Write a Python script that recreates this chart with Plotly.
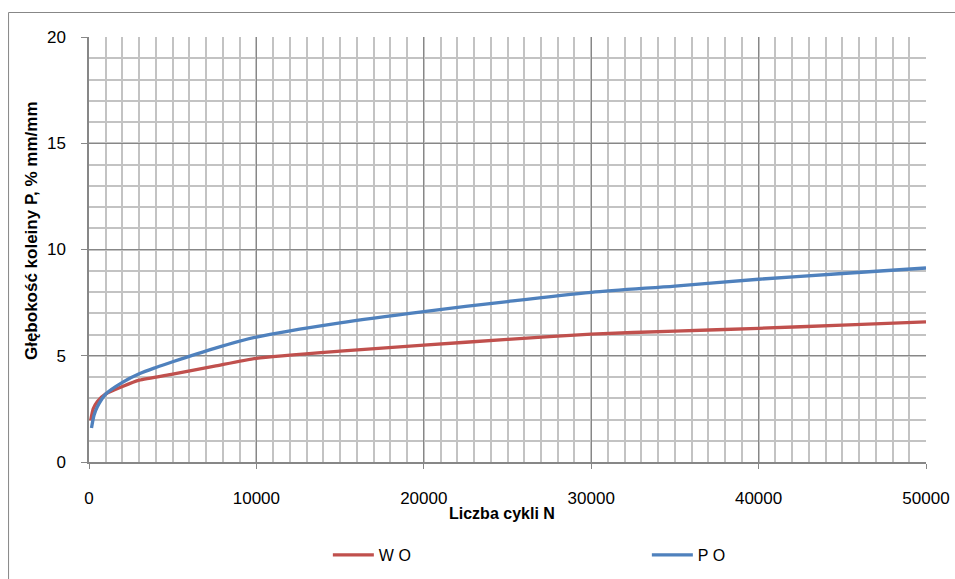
import plotly.graph_objects as go

# Rut depth vs. number of load cycles
cycles_wo = [100, 250, 500, 1000, 2000, 3000, 5000, 7500, 10000, 15000,
             20000, 25000, 30000, 35000, 40000, 45000, 50000]
rut_wo = [1.95, 2.5, 2.85, 3.2, 3.55, 3.85, 4.14, 4.51, 4.88, 5.22,
          5.5, 5.77, 6.02, 6.16, 6.29, 6.44, 6.59]

cycles_po = [150, 300, 500, 1000, 2000, 3000, 4000, 5000, 7500, 10000,
             15000, 20000, 25000, 30000, 35000, 40000, 45000, 50000]
rut_po = [1.6, 2.2, 2.6, 3.2, 3.75, 4.15, 4.45, 4.72, 5.35, 5.88,
          6.55, 7.08, 7.55, 7.98, 8.28, 8.6, 8.87, 9.13]

x_ticks = [0, 10000, 20000, 30000, 40000, 50000]
y_ticks = [0, 5, 10, 15, 20]

RED = "#C0504D"
BLUE = "#4F81BD"
MAJOR = "#878787"
MINOR = "#C3C3C3"
FONT = "Liberation Sans"

W, H = 955, 579
L, R, T, B = 89, 926.5, 37, 462

fig = go.Figure()
fig.add_trace(go.Scatter(x=cycles_wo, y=rut_wo, mode="lines", name="W O",
                         line=dict(color=RED, width=3.3, shape="spline", smoothing=0.5)))
fig.add_trace(go.Scatter(x=cycles_po, y=rut_po, mode="lines", name="P O",
                         line=dict(color=BLUE, width=3.3, shape="spline", smoothing=0.8)))

def px_x(p):
    return (p - L) / (R - L)

def px_y(p):
    return (B - p) / (B - T)

fig.update_layout(
    width=W, height=H,
    margin=dict(l=L, r=W - R, t=T, b=H - B, autoexpand=False),
    paper_bgcolor="white", plot_bgcolor="white",
    font=dict(family=FONT, size=17, color="#000000"),
    showlegend=True,
    legend=dict(orientation="h", x=px_x(328), y=px_y(538), xanchor="left", yanchor="top",
                entrywidth=263, entrywidthmode="pixels", itemwidth=41,
                font=dict(family=FONT, size=16), bgcolor="rgba(0,0,0,0)"),
    xaxis=dict(range=[0, 50000], tickvals=x_ticks, ticktext=[str(v) for v in x_ticks],
               showgrid=True, gridcolor=MAJOR, gridwidth=1,
               minor=dict(dtick=1000, showgrid=True, gridcolor=MINOR, gridwidth=1.5, ticks=""),
               showline=True, linecolor=MAJOR, linewidth=1.5,
               ticks="outside", ticklen=5, tickcolor=MAJOR, ticklabelstandoff=15,
               zeroline=False, tickfont=dict(size=17)),
    yaxis=dict(range=[0, 20], tickvals=y_ticks,
               showgrid=True, gridcolor=MAJOR, gridwidth=1,
               minor=dict(dtick=1, showgrid=True, gridcolor=MINOR, gridwidth=1.5, ticks=""),
               showline=True, linecolor=MAJOR, linewidth=1.5,
               ticks="outside", ticklen=6, tickcolor=MAJOR, ticklabelstandoff=12,
               zeroline=False, tickfont=dict(size=17)),
)

# Axis titles
fig.add_annotation(text="<b>Liczba cykli N</b>", xref="paper", yref="paper",
                   x=px_x(502), y=px_y(513), showarrow=False,
                   font=dict(family=FONT, size=16), xanchor="center", yanchor="middle")
fig.add_annotation(text="<b>Głębokość koleiny P, % mm/mm</b>", xref="paper", yref="paper",
                   x=px_x(32), y=px_y(231), showarrow=False, textangle=-90,
                   font=dict(family=FONT, size=17), xanchor="center", yanchor="middle")

# Chart area frame
fig.add_shape(type="rect", xref="paper", yref="paper",
              x0=px_x(8.5), y0=px_y(12.5), x1=px_x(1100), y1=px_y(700),
              line=dict(color=MAJOR, width=1), fillcolor="rgba(0,0,0,0)", layer="below")

fig.write_html("out.html")
